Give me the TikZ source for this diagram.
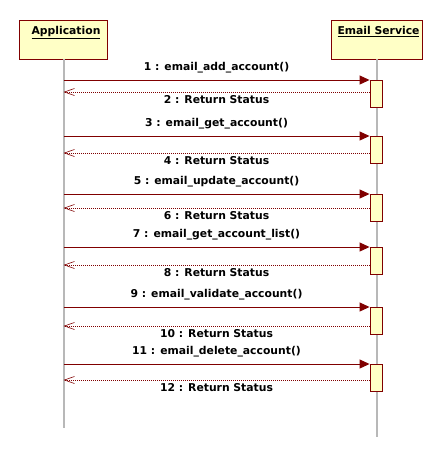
\documentclass[tikz,border=0pt]{standalone}
\usepackage{fontspec}
\setmainfont{DejaVu Sans}
\usetikzlibrary{arrows.meta}
\definecolor{umlred}{RGB}{128,0,0}
\definecolor{umlyellow}{RGB}{255,255,198}
\definecolor{lifegray}{RGB}{184,184,184}

\begin{document}
\begin{tikzpicture}[x=1pt,y=-1pt,
		obj/.style={draw=umlred,fill=umlyellow,line width=0.9pt,minimum height=39pt,inner sep=0pt},
		act/.style={draw=umlred,fill=umlyellow,line width=0.9pt,minimum width=12pt,minimum height=27pt,inner sep=0pt,anchor=north},
		lifeline/.style={draw=lifegray,line width=2pt},
		call/.style={draw=umlred,line width=1pt,-{Triangle[length=10pt,width=9pt]}},
		ret/.style={draw=umlred,line width=0.8pt,dash pattern=on 1pt off 1pt,-{Straight Barb[length=10pt,width=7pt,line width=0.6pt]}},
		lbl/.style={font=\fontsize{10.8}{12}\selectfont\bfseries,inner sep=0pt}]
	
	\useasboundingbox (0,0) rectangle (444,456);
	
	% the two objects
	\node[obj,minimum width=88pt] (app) at (63.5,39.5) {};
	\node[obj,minimum width=91pt] (mail) at (376.5,39.5) {};
	\node[lbl,anchor=base] (apptitle) at (66,34.5) {\underline{Application}};
	\node[lbl,anchor=base] (mailtitle) at (378.5,34.5) {\underline{Email Service}};
	
	% lifelines
	\coordinate (append) at (63.5,428);
	\coordinate (mailend) at (376.5,437);
	\draw[lifeline] (app.south) -- (append);
	\draw[lifeline] (mail.south) -- (mailend);
	
	% calls and returns
	\foreach \n/\m/\yc/\yr/\call in {1/2/80/92/email\_add\_account(),
			3/4/136/153/email\_get\_account(),
			5/6/194/208/email\_update\_account(),
			7/8/247/265/email\_get\_account\_list(),
			9/10/307/326/email\_validate\_account(),
			11/12/364/380/email\_delete\_account()}{
		\node[act] (act\n) at (376,\yc) {};
		\coordinate (c\n) at (63.5,\yc);
		\coordinate (r\n) at (63.5,\yr);
		\draw[call] (c\n) -- (act\n.north west) node[lbl,midway,above=6.5pt] (m\n) {\n{} : \call};
		\draw[ret] (act\n.west |- r\n) -- (r\n) node[lbl,midway,below=3pt] (m\m) {\m{} : Return Status};
	}
\end{tikzpicture}
\end{document}
